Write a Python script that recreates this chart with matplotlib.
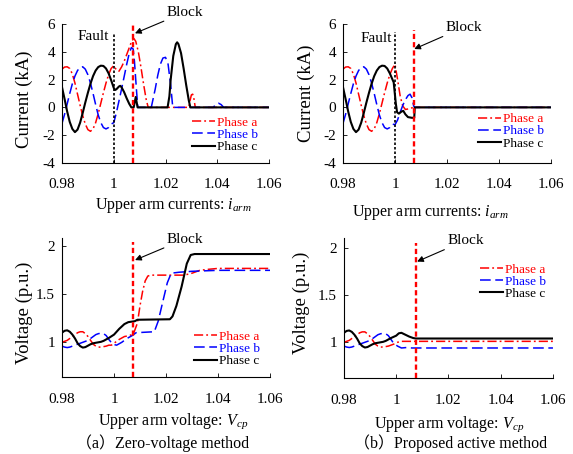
import numpy as np
import matplotlib
matplotlib.use("Agg")
import matplotlib.pyplot as plt

plt.rcParams['font.family'] = ['Liberation Serif', 'DejaVu Serif']
plt.rcParams['axes.unicode_minus'] = False
plt.rcParams['mathtext.fontset'] = 'custom'
plt.rcParams['mathtext.rm'] = 'Liberation Serif'
plt.rcParams['mathtext.it'] = 'Liberation Serif:italic'

# ---------------- data ----------------
fault_t = 1.0
block_t = 1.0075

# arm currents before the fault (same for both methods), kA
t_pre = [0.980, 0.981, 0.982, 0.983, 0.984, 0.985, 0.986, 0.987, 0.988, 0.989,
         0.990, 0.991, 0.992, 0.993, 0.994, 0.995, 0.996, 0.997, 0.998, 0.999]
ia_pre = [2.75, 2.9, 2.92, 2.8, 2.4, 1.75, 0.95, 0.15, -0.6, -1.2,
          -1.6, -1.72, -1.55, -1.1, -0.45, 0.3, 1.05, 1.75, 2.35, 2.8]
ib_pre = [-1.15, -0.5, 0.25, 1.0, 1.7, 2.25, 2.65, 2.88, 2.92, 2.75,
          2.35, 1.75, 1.0, 0.2, -0.55, -1.1, -1.45, -1.55, -1.45, -1.2]
ic_pre = [1.45, 0.6, -0.3, -1.05, -1.55, -1.78, -1.6, -1.1, -0.4, 0.35,
          1.05, 1.7, 2.25, 2.65, 2.9, 3.0, 2.98, 2.8, 2.45, 1.95]

# zero-voltage method, after the fault
ta_zv = [1.000, 1.001, 1.002, 1.003, 1.004, 1.005, 1.006, 1.007, 1.0078, 1.0085,
         1.0095, 1.0105, 1.0115, 1.0125, 1.0133, 1.029, 1.0295, 1.030, 1.0305,
         1.031, 1.0315, 1.06]
ia_zv = [3.0, 2.7, 2.6, 2.9, 3.3, 3.8, 4.3, 4.8, 4.95, 4.75,
         4.0, 2.9, 1.7, 0.6, 0.0, 0.0, 0.5, 0.9, 0.95,
         0.6, 0.0, 0.0]
tb_zv = [1.000, 1.001, 1.002, 1.003, 1.004, 1.005, 1.006, 1.0068, 1.0075, 1.008,
         1.0088, 1.0093, 1.0145, 1.016, 1.017, 1.018, 1.019, 1.020, 1.021, 1.022,
         1.0228, 1.0385, 1.0395, 1.0405, 1.0415, 1.0425, 1.06]
ib_zv = [-1.1, -0.4, 0.45, 1.3, 2.2, 3.1, 3.9, 4.3, 4.2, 3.3,
         1.2, 0.0, 0.0, 1.3, 2.3, 3.1, 3.55, 3.6, 3.1, 1.6,
         0.0, 0.0, 0.25, 0.3, 0.2, 0.0, 0.0]
tc_zv = [1.000, 1.0005, 1.001, 1.002, 1.0025, 1.003, 1.004, 1.005, 1.006, 1.0068,
         1.0077, 1.0085, 1.0092, 1.0208, 1.0215, 1.022, 1.023, 1.024, 1.0245, 1.025,
         1.026, 1.027, 1.028, 1.029, 1.0296, 1.06]
ic_zv = [1.4, 1.25, 1.3, 1.5, 1.55, 1.45, 1.1, 0.65, 0.25, 0.0,
         0.0, 0.75, 0.0, 0.0, 0.8, 2.0, 3.7, 4.55, 4.68, 4.55,
         3.9, 2.8, 1.6, 0.5, 0.0, 0.0]

# proposed active method, after the fault
ta_act = [1.000, 1.001, 1.002, 1.003, 1.004, 1.0055, 1.007, 1.06]
ia_act = [3.1, 2.0, 0.8, 0.1, -0.15, -0.1, 0.0, 0.0]
tb_act = [1.000, 1.001, 1.002, 1.003, 1.004, 1.005, 1.0058, 1.0065, 1.0072, 1.0076, 1.06]
ib_act = [-1.25, -0.9, -0.35, 0.15, 0.55, 0.85, 0.95, 0.7, 0.1, 0.0, 0.0]
tc_act = [0.9995, 1.0003, 1.0008, 1.0015, 1.0025, 1.0032, 1.004, 1.005, 1.0065,
          1.0074, 1.0076, 1.06]
ic_act = [1.8, 0.3, -0.35, -0.45, -0.3, -0.25, -0.5, -0.7, -0.75,
          -0.75, 0.0, 0.0]

# upper arm voltages before the fault, p.u.
tv_pre = [0.980, 0.981, 0.982, 0.983, 0.984, 0.985, 0.986, 0.987, 0.988, 0.989,
          0.990, 0.991, 0.992, 0.993, 0.994, 0.995, 0.996, 0.997, 0.998]
va_pre = [1.00, 1.01, 1.02, 1.04, 1.06, 1.08, 1.10, 1.11, 1.11, 1.09,
          1.06, 1.02, 0.98, 0.96, 0.95, 0.95, 0.955, 0.96, 0.97]
vb_pre = [0.96, 0.95, 0.945, 0.95, 0.96, 0.97, 0.98, 0.99, 1.00, 1.01,
          1.02, 1.04, 1.06, 1.08, 1.09, 1.095, 1.09, 1.07, 1.03]
vc_pre = [1.10, 1.12, 1.125, 1.11, 1.08, 1.04, 0.99, 0.96, 0.945, 0.95,
          0.965, 0.98, 0.99, 0.995, 1.0, 1.005, 1.015, 1.03, 1.045]

tva_zv = [0.999, 1.000, 1.002, 1.004, 1.006, 1.0075, 1.009, 1.010, 1.011, 1.012,
          1.013, 1.014, 1.027, 1.030, 1.033, 1.036, 1.040, 1.06]
va_zv = [0.97, 0.99, 1.03, 1.06, 1.07, 1.09, 1.2, 1.38, 1.53, 1.64,
         1.69, 1.70, 1.70, 1.72, 1.75, 1.76, 1.77, 1.77]
tvb_zv = [0.9995, 1.001, 1.003, 1.005, 1.007, 1.0085, 1.0155, 1.017, 1.019, 1.0205,
          1.022, 1.025, 1.030, 1.040, 1.06]
vb_zv = [0.98, 0.97, 1.0, 1.04, 1.07, 1.10, 1.11, 1.22, 1.45, 1.62,
         1.72, 1.73, 1.74, 1.75, 1.75]
tvc_zv = [1.000, 1.002, 1.004, 1.0055, 1.008, 1.009, 1.0215, 1.0225, 1.024, 1.026,
          1.028, 1.0295, 1.031, 1.06]
vc_zv = [1.08, 1.14, 1.19, 1.21, 1.22, 1.235, 1.24, 1.27, 1.38, 1.58,
         1.82, 1.91, 1.92, 1.92]

tva_act = [0.999, 1.0005, 1.002, 1.06]
va_act = [0.98, 1.0, 1.01, 1.01]
tvb_act = [0.999, 1.0005, 1.002, 1.004, 1.006, 1.06]
vb_act = [0.99, 0.96, 0.94, 0.945, 0.94, 0.94]
tvc_act = [1.000, 1.001, 1.002, 1.0035, 1.005, 1.0065, 1.0075, 1.06]
vc_act = [1.07, 1.095, 1.1, 1.08, 1.06, 1.045, 1.04, 1.04]

phase_names = ['Phase a', 'Phase b', 'Phase c']
colors = ['#ff0000', '#0000ff', '#000000']
styles = [(0, (6, 2, 1.2, 2)), (0, (7, 3)), '-']
widths = [1.1, 1.1, 1.5]

xticks = [0.98, 1.0, 1.02, 1.04, 1.06]
xticklabels = ['0.98', '1', '1.02', '1.04', '1.06']


def setup(ax, ylim, yticks, yticklabels):
    ax.set_xlim(0.98, 1.06)
    ax.set_ylim(*ylim)
    ax.set_xticks(xticks)
    ax.set_xticklabels(xticklabels)
    ax.set_yticks(yticks)
    ax.set_yticklabels(yticklabels)
    for s in ['top', 'right']:
        ax.spines[s].set_visible(False)
    for s in ['left', 'bottom']:
        ax.spines[s].set_linewidth(0.8)
    ax.tick_params(direction='in', length=3, width=0.6, labelsize=11)
    ax.tick_params(axis='x', pad=11)
    ax.tick_params(axis='y', pad=5)


def curves(ax, series):
    for (t, v), c, ls, lw, name in zip(series, colors, styles, widths, phase_names):
        ax.plot(t, v, color=c, linestyle=ls, linewidth=lw, label=name)


def legend(ax, x, y):
    leg = ax.legend(loc='upper left', bbox_to_anchor=(x, y), frameon=False,
                    fontsize=9.5, handlelength=1.75, handletextpad=0.15,
                    labelspacing=0.0, borderpad=0, borderaxespad=0)
    for txt, c in zip(leg.get_texts(), colors):
        txt.set_color(c)


def block(ax, top, bottom, head, text):
    ax.plot([block_t, block_t], [bottom, top], color='#ff0000',
            linestyle=(0, (2.2, 1.3)), linewidth=1.7, zorder=5)
    ax.annotate('Block', xy=head, xytext=text, ha='center', va='center',
                fontsize=11, annotation_clip=False,
                arrowprops=dict(arrowstyle='-|>', color='black', lw=0.8,
                                shrinkA=0, shrinkB=0, mutation_scale=9))


fig = plt.figure(figsize=(5.73, 4.54), dpi=100)
ax_tl = fig.add_axes([0.1082, 0.6410, 0.3613, 0.3062])
ax_tr = fig.add_axes([0.5986, 0.6410, 0.3630, 0.3062])
ax_bl = fig.add_axes([0.1082, 0.1689, 0.3630, 0.3075])
ax_br = fig.add_axes([0.6003, 0.1667, 0.3647, 0.3090])

# top left: currents, zero-voltage method
curves(ax_tl, [(t_pre + ta_zv, ia_pre + ia_zv),
               (t_pre + tb_zv, ib_pre + ib_zv),
               (t_pre + tc_zv, ic_pre + ic_zv)])
# top right: currents, active method
curves(ax_tr, [(t_pre + ta_act, ia_pre + ia_act),
               (t_pre + tb_act, ib_pre + ib_act),
               (t_pre[:-1] + tc_act, ic_pre[:-1] + ic_act)])
# bottom left / right: voltages
curves(ax_bl, [(tv_pre + tva_zv, va_pre + va_zv),
               (tv_pre + tvb_zv, vb_pre + vb_zv),
               (tv_pre + tvc_zv, vc_pre + vc_zv)])
curves(ax_br, [(tv_pre + tva_act, va_pre + va_act),
               (tv_pre + tvb_act, vb_pre + vb_act),
               (tv_pre + tvc_act, vc_pre + vc_act)])

for ax in (ax_tl, ax_tr):
    setup(ax, (-4, 6), [-4, -2, 0, 2, 4, 6], ['-4', '-2', '0', '2', '4', '6'])
    ax.set_ylabel('Current (kA)', fontsize=13.5)
    ax.set_xlabel('Upper arm currents: $i_{arm}$', fontsize=11.5)
setup(ax_bl, (0.635, 2.09), [1, 1.5, 2], ['1', '1.5', '2'])
setup(ax_br, (0.62, 2.1), [1, 1.5, 2], ['1', '1.5', '2'])
for ax in (ax_bl, ax_br):
    ax.set_ylabel('Voltage (p.u.)', fontsize=13.5)
    ax.set_xlabel('Upper arm voltage: $V_{cp}$', fontsize=11.5)

ax_tl.yaxis.set_label_coords(-0.14, 0.46)
ax_tr.yaxis.set_label_coords(-0.135, 0.50)
ax_bl.yaxis.set_label_coords(-0.14, 0.46)
ax_br.yaxis.set_label_coords(-0.163, 0.54)
ax_tl.xaxis.set_label_coords(0.54, -0.24)
ax_tr.xaxis.set_label_coords(0.42, -0.29)
ax_bl.xaxis.set_label_coords(0.534, -0.246)
ax_br.xaxis.set_label_coords(0.502, -0.257)

# fault markers
ax_tl.plot([fault_t, fault_t], [-4, 5.35], color='black', linestyle=(0, (1.5, 1.2)), linewidth=1.2)
ax_tl.text(0.9982, 5.1, 'Fault', ha='right', va='center', fontsize=11)
ax_tr.plot([fault_t, fault_t], [-4, 5.4], color='black', linestyle=(0, (1.5, 1.2)), linewidth=1.2)
ax_tr.text(0.9990, 4.92, 'Fault', ha='right', va='center', fontsize=11)

block(ax_tl, 6.0, -4, (1.0082, 5.33), (1.0275, 6.84))
block(ax_tr, 5.55, -4, (1.0074, 4.2), (1.0265, 5.76))
block(ax_bl, 2.05, 0.635, (1.0081, 1.857), (1.0273, 2.076))
block(ax_br, 2.05, 0.62, (1.008, 1.852), (1.0265, 2.074))

legend(ax_tl, 0.628, 0.335)
legend(ax_tr, 0.648, 0.36)
legend(ax_bl, 0.635, 0.335)
legend(ax_br, 0.651, 0.82)

cap = ['Liberation Serif', 'Noto Sans CJK SC']
fig.text(163 / 573, 1 - 443 / 454, '（a）Zero-voltage method', ha='center', va='center',
         fontsize=11.5, family=cap)
fig.text(451 / 573, 1 - 443 / 454, '（b）Proposed active method', ha='center', va='center',
         fontsize=11.5, family=cap)

fig.savefig('out.png', dpi=100)
